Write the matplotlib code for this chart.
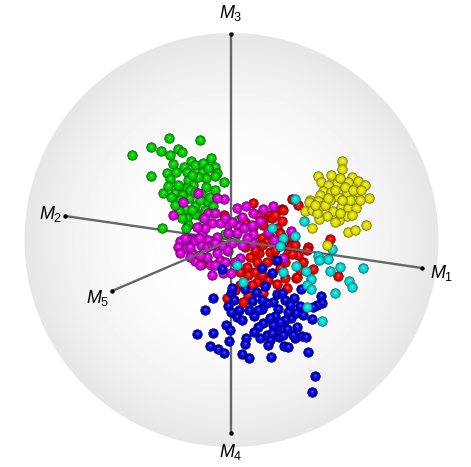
import numpy as np
import matplotlib
matplotlib.use('Agg')
import matplotlib.pyplot as plt
from matplotlib.patches import Circle

plt.rcParams['mathtext.fontset'] = 'custom'
plt.rcParams['mathtext.it'] = 'Liberation Sans:italic'
plt.rcParams['mathtext.rm'] = 'Liberation Sans'

# projected scores (x, y)
green = [(132,155),(169,138),(200,140),(151,147),(161,151),(178,149),(182,152),(170,155),(211,158),
         (173,164),(215,167),(184,167),(191,161),(195,165),(203,163),(167,173),(151,176),(176,172),
         (187,172),(202,172),(217,173),(215,176),(224,182),(206,178),(170,179),(188,180),(168,186),
         (163,193),(175,193),(171,197),(183,188),(193,185),(187,188),(206,187),(201,194),(189,198),
         (207,201),(213,206),(195,206),(185,209),(179,211),(199,215),(195,214),(187,218),(182,218),
         (162,228),(203,225),(188,225),(186,228),(190,190),(198,177),(182,195),(210,197),
         (203,224),(238,220),(248,225),(225,234),(235,237),(228,251),
         (180,200),(192,175),(200,200),(178,185),(208,168),(195,192),(192,210),(205,210),(175,205),(215,190)]
red = [(253,203),(224,215),(282,209),(268,217),(270,215),(282,221),(263,225),(277,228),(253,227),
       (280,233),(270,237),(262,238),(252,237),(266,242),(292,237),(287,245),(280,245),(259,253),
       (288,253),(270,252),(250,257),(247,267),(202,264),(257,282),(265,285),(277,284),(287,288),
       (296,278),(272,273),(255,272),(240,272),(263,293),(298,255),(257,262),(275,260),(245,247),
       (267,262),(292,199),(298,205),(283,210),(272,218),(291,246),(308,247),(307,250),(292,254),
       (303,262),(313,269),(338,276),(330,239),(297,277),(227,298),(248,295),(240,285),
       (262,245),(275,250),(285,262),(295,245),(258,215),(245,222),(248,275),(262,275),(268,280),
       (285,278),(235,290),(252,285),(300,270),(280,268),(255,250),(275,215)]
red_front = [(243,302)]
magenta = [(224,199),(208,213),(215,213),(173,215),(237,208),(246,206),(273,206),(253,213),(263,209),
           (260,221),(228,224),(238,226),(220,223),(212,223),(202,233),(217,237),(193,239),(180,241),
           (208,240),(201,245),(186,248),(178,247),(180,253),(192,253),(195,261),(207,257),(220,260),
           (211,265),(212,275),(223,273),(231,273),(240,258),(242,245),(232,243),(253,243),(253,234),
           (268,232),(274,240),(291,231),(228,233),(252,225),(205,228),(225,218),(197,227),(207,247),
           (190,247),(217,253),(227,250),(237,233),(247,238),(187,238),(200,255),(215,265),
           (198,193),(217,198),(183,202),(283,258),
           (195,240),(212,245),(222,245),(204,218),(232,222),(242,217),(185,238),(199,238),(215,243),
           (200,265),(225,262),(190,257),(235,262),(244,228)]
blue = [(213,298),(205,310),(231,293),(232,288),(228,306),(234,300),(231,312),(239,310),(237,317),
        (242,320),(252,301),(256,292),(249,310),(254,316),(262,309),(263,323),(258,327),(254,332),
        (226,325),(230,330),(197,334),(213,333),(229,341),(246,338),(245,344),(210,346),(218,349),
        (224,353),(242,354),(249,358),(271,357),(260,338),(267,335),(270,340),(268,345),(279,337),
        (284,346),(288,347),(295,338),(302,336),(306,337),(297,327),(287,329),(277,327),(273,325),
        (291,318),(296,313),(300,306),(288,312),(278,309),(275,316),(273,302),(277,294),(285,300),
        (294,298),(301,289),(321,296),(322,303),(317,305),(313,307),(312,319),(308,352),(315,376),
        (312,392),(265,286),(245,289),(267,303),(282,293),(277,260),(262,268),(222,269),(272,273),
        (258,310),(285,320),(280,322),(270,318),(290,305),(272,333),(283,335),(262,300),(303,315),(293,335)]
cyan = [(295,199),(304,221),(295,236),(283,238),(332,249),(318,256),(319,260),(328,259),(340,267),
        (330,271),(363,268),(349,281),(352,287),(311,279),(306,271),(283,272),(307,285),(311,289),
        (335,293),(296,266),(272,228),(280,246),(237,265),(243,282),(322,321),(307,307)]
yellow = [(342,161),(342,169),(318,176),(321,182),(331,175),(352,177),(348,182),(337,183),(328,185),
          (358,181),(365,185),(323,191),(331,192),(347,193),(358,192),(369,198),(338,197),(320,195),
          (310,200),(309,202),(318,201),(321,206),(305,211),(312,210),(333,211),(341,207),(348,208),
          (356,208),(347,216),(327,216),(319,219),(339,220),(335,222),(312,228),(348,232),(355,230),
          (366,225),(327,245),(350,200),(330,200),(345,187),(317,213),(360,200),
          (335,190),(342,200),(325,205),(353,190),(340,178),(328,198),(315,205),(340,213),(352,215),(361,190)]

# variable axes
origin = (231, 240)
axis_names = ['$M_1$', '$M_2$', '$M_3$', '$M_4$', '$M_5$']
axis_tips = [(422,268), (65,216), (231,34), (231,433), (112,291)]
label_pos = [(442,273), (51,214), (231,13), (231,452), (98,298)]

def shade(rgb, k):
    rgb = np.array(rgb, dtype=float)
    if k < 1:
        return tuple(rgb * k)
    return tuple(rgb + (1 - rgb) * (k - 1))

def spheres(ax, pts, rgb, z):
    # each ball gets its own layers so that later balls cover earlier ones
    layers = [(54, 0.4, 0.0), (48, 0.62, 0.1), (40, 0.82, 0.2), (28, 0.95, 0.3), (12, 1.05, 0.45), (3, 1.3, 0.7)]
    for x, y in pts:
        for s, k, d in layers:
            ax.scatter(x-d*0.5, y-d, s=s, color=[shade(rgb, k)], linewidths=0, zorder=z)

fig = plt.figure(figsize=(4.71, 4.67), dpi=100)
ax = fig.add_axes([0, 0, 1, 1])
ax.axis('off')

# shaded sphere behind everything
cx, cy, rad = 231.5, 240, 207
xx, yy = np.meshgrid(np.arange(0, 471), np.arange(0, 467))
rr = np.clip(np.hypot(xx - cx, yy - cy) / rad, 0, 1)
im = ax.imshow(1 - 0.10 * rr**2.5, cmap='gray', vmin=0, vmax=1, extent=(0, 471, 467, 0),
               interpolation='bilinear', aspect='auto', zorder=0)
im.set_clip_path(Circle((cx, cy), rad, transform=ax.transData))
ax.set_xlim(0, 471)
ax.set_ylim(467, 0)

for i, (tip, name, pos) in enumerate(zip(axis_tips, axis_names, label_pos)):
    # M1 and M5 point towards the viewer, the others go behind the cloud
    z = 5 if i in (0, 4) else 1
    ax.plot([origin[0], tip[0]], [origin[1], tip[1]], color='#666666', lw=1.7, zorder=z,
            solid_capstyle='butt')
    ax.scatter(*tip, s=10, color='black', linewidths=0, zorder=z)
    ax.text(pos[0], pos[1], name, fontsize=13, ha='center', va='center', color='black', zorder=10)

spheres(ax, green, (0.0, 0.82, 0.0), 2)
spheres(ax, red, (0.95, 0.0, 0.0), 3)
spheres(ax, magenta, (0.87, 0.0, 0.87), 4)
spheres(ax, blue, (0.0, 0.0, 0.87), 6)
spheres(ax, red_front, (0.95, 0.0, 0.0), 6.5)
spheres(ax, cyan, (0.0, 0.87, 0.87), 7)
spheres(ax, yellow, (0.9, 0.9, 0.0), 8)

fig.savefig('out.png', dpi=100)
